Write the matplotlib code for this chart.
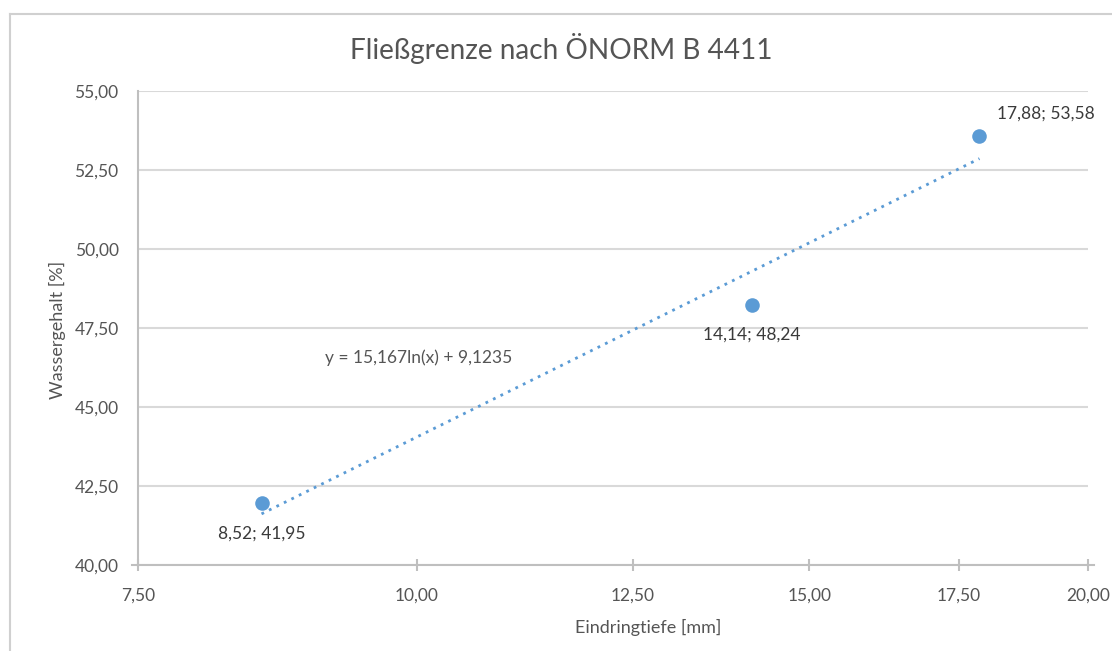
import numpy as np
import matplotlib
matplotlib.use("Agg")
import matplotlib.pyplot as plt
from matplotlib.ticker import FixedLocator, NullLocator, FuncFormatter
from matplotlib.lines import Line2D

# Measurements: penetration depth vs. water content
eindringtiefe = [8.52, 14.14, 17.88]
wassergehalt = [41.95, 48.24, 53.58]
punkt_labels = ["8,52; 41,95", "14,14; 48,24", "17,88; 53,58"]

# Logarithmic trendline coefficients
trend_a = 15.167
trend_b = 9.1235
trend_text = "y = 15,167ln(x) + 9,1235"

x_ticks = [7.5, 10.0, 12.5, 15.0, 17.5, 20.0]
y_ticks = [40.0, 42.5, 45.0, 47.5, 50.0, 52.5, 55.0]

title = "Fließgrenze nach ÖNORM B 4411"
x_label = "Eindringtiefe [mm]"
y_label = "Wassergehalt [%]"

BLUE = "#5B9BD5"
GREY_TXT = "#555555"
DARK_TXT = "#3A3A3A"
GRID = "#D9D9D9"

plt.rcParams["font.family"] = ["Lato", "DejaVu Sans"]

W, H = 1112, 651
fig = plt.figure(figsize=(W / 100, H / 100), dpi=100)
fig.patch.set_facecolor("white")

# Chart frame (open at right and bottom)
fig.add_artist(Line2D([10 / W, 10 / W], [0, 1 - 14 / H], transform=fig.transFigure,
                      color="#D0D0D0", lw=1.5))
fig.add_artist(Line2D([10 / W, 1], [1 - 14 / H, 1 - 14 / H], transform=fig.transFigure,
                      color="#D0D0D0", lw=1.5))

left, right, top, bottom = 138, 1088, 91, 565
ax = fig.add_axes([left / W, 1 - bottom / H, (right - left) / W, (bottom - top) / H])

ax.set_xscale("log")
ax.set_xlim(7.5, 20.0)
ax.set_ylim(40.0, 55.0)

fmt = FuncFormatter(lambda v, p: f"{v:.2f}".replace(".", ","))
ax.xaxis.set_major_locator(FixedLocator(x_ticks))
ax.xaxis.set_minor_locator(NullLocator())
ax.xaxis.set_major_formatter(fmt)
ax.yaxis.set_major_locator(FixedLocator(y_ticks))
ax.yaxis.set_major_formatter(fmt)

for s in ["top", "right"]:
    ax.spines[s].set_visible(False)
for s in ["left", "bottom"]:
    ax.spines[s].set_color("#BFBFBF")
    ax.spines[s].set_linewidth(1.5)

ax.grid(axis="y", color=GRID, lw=1.5)
ax.set_axisbelow(True)

ax.tick_params(axis="x", direction="inout", length=9, width=1.5, color="#BFBFBF",
               labelsize=12.5, labelcolor=GREY_TXT, pad=12)
ax.tick_params(axis="y", length=0, labelsize=12.5, labelcolor=GREY_TXT, pad=14)

# Axis line overhang on both ends of the x axis
ax.plot([7.5 * np.exp(-6 / 965), 7.5], [40, 40], color="#BFBFBF", lw=1.5,
        clip_on=False, zorder=3)
ax.plot([20.0, 20.0 * np.exp(6 / 965)], [40, 40], color="#BFBFBF", lw=1.5,
        clip_on=False, zorder=3)

# Trendline over the measured range
xt = np.linspace(min(eindringtiefe), max(eindringtiefe), 200)
ax.plot(xt, trend_a * np.log(xt) + trend_b, color=BLUE, lw=2, ls=(0, (1, 2.0)), zorder=2)

ax.scatter(eindringtiefe, wassergehalt, s=110, color=BLUE, zorder=4, linewidths=0)

offsets = [(0, -22, "center", "top"), (0, -22, "center", "top"), (18, 14, "left", "bottom")]
for x, y, lab, (dx, dy, ha, va) in zip(eindringtiefe, wassergehalt, punkt_labels, offsets):
    ax.annotate(lab, (x, y), xytext=(dx, dy), textcoords="offset pixels",
                ha=ha, va=va, fontsize=12.5, color=DARK_TXT)

fig.text(325 / W, 1 - 358 / H, trend_text, ha="left", va="center",
         fontsize=12.5, color=GREY_TXT)

fig.text(561 / W, 1 - 48 / H, title, ha="center", va="center", fontsize=20.2,
         color=GREY_TXT)
fig.text(648 / W, 1 - 627 / H, x_label, ha="center", va="center", fontsize=13,
         color=GREY_TXT)
fig.text(57 / W, 1 - 330 / H, y_label, ha="center", va="center", fontsize=13,
         color=GREY_TXT, rotation=90)

fig.savefig("out.png", dpi=100, facecolor="white")
